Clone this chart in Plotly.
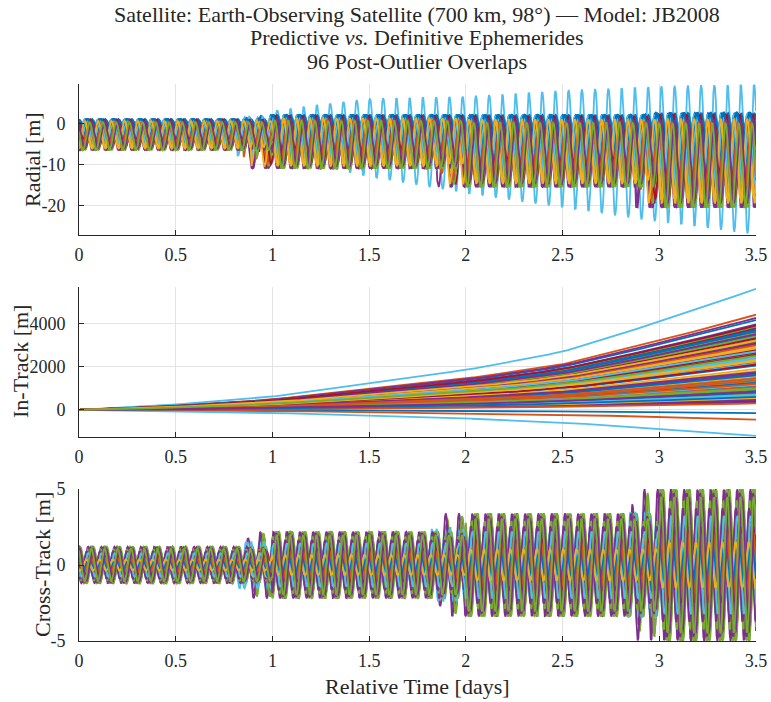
import numpy as np
import plotly.graph_objects as go

COLORS = ["#0072BD", "#D95319", "#EDB120", "#7E2F8E", "#77AC30", "#4DBEEE", "#A2142F"]
N_SERIES = 96
ORBITS_PER_DAY = 14.6
T_END = 3.5

title_lines = ["Satellite: Earth-Observing Satellite (700 km, 98°) — Model: JB2008",
               "Predictive <i>vs.</i> Definitive Ephemerides",
               "96 Post-Outlier Overlaps"]
x_ticks = [0, 0.5, 1, 1.5, 2, 2.5, 3, 3.5]
x_ticktext = ["0", "0.5", "1", "1.5", "2", "2.5", "3", "3.5"]
rad_ticks = [-20, -10, 0]
rad_ticktext = ["-20", "-10", "0"]
int_ticks = [0, 2000, 4000]
int_ticktext = ["0", "2000", "4000"]
cross_ticks = [-5, 0, 5]
cross_ticktext = ["-5", "0", "5"]

# In-track error at 3.5 days for each overlap [m]
intrack_end = [
    4150, 4400, 3650, 4250, 3300, 5600, 3900,
    -150, -450, 2900, 3800, 3550, -1200, 3100,
    2500, 1500, 3400, 2200, 3700, 2700, 1200,
    900, 3000, 1800, 3950, 2600, 1400, 700,
    2050, 600, 3250, 1100, 3500, 2350, 400,
    1650, 2800, 1000, 3600, 1300, 2450, 3050,
    500, 3200, 1550, 3350, 750, 2150, 3750,
    1250, 850, 2950, 1700, 3150, 650, 2750,
    3450, 1050, 2250, 350, 3850, 1450, 2550,
    800, 3000, 1900, 450, 3550, 1150, 2650,
    3700, 1350, 550, 3100, 950, 2400, 3300,
    1600, 300, 2850, 1750, 3400, 700, 2100,
    3650, 1200, 2300, 3500, 1000, 2700, 3900,
    600, 1450, 3200, 850, 2500,
]
# shared growth profile of the in-track error (fraction of end value)
intrack_knot_t = [0, 0.25, 0.5, 0.75, 1.0, 1.25, 1.5, 1.75, 2.0, 2.25, 2.5, 2.75, 3.0, 3.25, 3.5]
intrack_knot_frac = [0, 0.02, 0.045, 0.075, 0.11, 0.165, 0.22, 0.28, 0.33, 0.40, 0.48, 0.60, 0.73, 0.86, 1.0]

# radial envelope per day-segment [m]
rad_env_top = [1.0, 2.0, 2.0, 2.5]
rad_env_bot = [-6.5, -11.0, -15.5, -20.5]
# cross-track max amplitude per day-segment [m]
cross_env_amp = [1.2, 2.2, 3.4, 5.0]

rad_level = [
    0.35, 0.55, 0.80, 0.95, 0.90, 0.70, 0.60,
    0.45, 0.85, 0.75, 1.00, 0.95, 0.65, 0.80,
    0.30, 0.70, 0.90, 0.85, 1.00, 0.55, 0.75,
    0.50, 0.95, 0.65, 0.90, 0.80, 0.60, 0.95,
    0.40, 0.80, 0.85, 1.00, 0.90, 0.70, 0.85,
    0.25, 0.90, 0.70, 0.95, 0.85, 0.50, 0.90,
    0.55, 0.65, 0.95, 0.90, 1.00, 0.75, 0.80,
    0.35, 0.85, 0.80, 0.85, 0.95, 0.65, 0.70,
    0.45, 0.75, 0.90, 1.00, 0.85, 0.55, 0.95,
    0.30, 0.95, 0.75, 0.90, 0.95, 0.60, 0.85,
    0.50, 0.70, 0.85, 0.95, 0.90, 0.65, 0.75,
    0.40, 0.90, 0.80, 1.00, 1.00, 0.70, 0.90,
    0.60, 0.80, 0.95, 0.85, 0.95, 0.75, 0.80,
    0.35, 0.85, 0.90, 0.95, 1.00,
]
rad_drop = [
    0.05, 0.10, 0.35, 0.20, 0.30, 0.15, 0.05,
    0.00, 0.25, 0.40, 0.15, 0.30, 0.10, 0.20,
    0.05, 0.30, 0.20, 0.35, 0.25, 0.10, 0.15,
    0.10, 0.35, 0.25, 0.20, 0.40, 0.05, 0.30,
    0.00, 0.20, 0.30, 0.15, 0.35, 0.25, 0.10,
    0.05, 0.25, 0.40, 0.10, 0.30, 0.20, 0.15,
    0.10, 0.30, 0.20, 0.35, 0.25, 0.15, 0.05,
    0.00, 0.35, 0.25, 0.20, 0.30, 0.40, 0.10,
    0.05, 0.15, 0.30, 0.20, 0.25, 0.35, 0.20,
    0.10, 0.30, 0.40, 0.15, 0.25, 0.05, 0.30,
    0.00, 0.25, 0.20, 0.35, 0.30, 0.10, 0.15,
    0.05, 0.35, 0.30, 0.20, 0.15, 0.25, 0.40,
    0.10, 0.20, 0.30, 0.25, 0.35, 0.15, 0.05,
    0.00, 0.30, 0.20, 0.25, 0.35,
]
cross_level = [
    0.45, 0.40, 0.30, 0.95, 0.90, 0.70, 0.50,
    0.35, 0.55, 0.25, 0.80, 1.00, 0.60, 0.45,
    0.50, 0.30, 0.40, 1.00, 0.75, 0.65, 0.55,
    0.30, 0.45, 0.35, 0.85, 0.95, 0.55, 0.40,
    0.55, 0.35, 0.25, 0.90, 0.80, 0.75, 0.60,
    0.40, 0.50, 0.45, 0.75, 0.85, 0.60, 0.35,
    0.25, 0.40, 0.30, 0.95, 1.00, 0.70, 0.50,
    0.45, 0.55, 0.35, 0.80, 0.90, 0.55, 0.45,
    0.35, 0.30, 0.50, 1.00, 0.75, 0.65, 0.40,
    0.50, 0.45, 0.25, 0.85, 0.95, 0.60, 0.55,
    0.30, 0.35, 0.40, 0.90, 0.85, 0.70, 0.35,
    0.40, 0.50, 0.30, 0.75, 1.00, 0.55, 0.45,
    0.55, 0.40, 0.35, 0.95, 0.80, 0.65, 0.50,
    0.35, 0.45, 0.30, 0.85, 0.90,
]
# orbit phase of each overlap [fraction of an orbit]
phase = [
    0.00, 0.08, 0.16, 0.24, 0.32, 0.04, 0.42,
    0.50, 0.18, 0.10, 0.36, 0.26, 0.54, 0.12,
    0.22, 0.44, 0.30, 0.06, 0.38, 0.56, 0.14,
    0.48, 0.24, 0.02, 0.32, 0.18, 0.42, 0.08,
    0.36, 0.12, 0.52, 0.20, 0.00, 0.30, 0.54,
    0.26, 0.06, 0.38, 0.14, 0.44, 0.24, 0.32,
    0.10, 0.56, 0.18, 0.42, 0.02, 0.50, 0.12,
    0.30, 0.20, 0.48, 0.06, 0.36, 0.14, 0.26,
    0.54, 0.00, 0.24, 0.44, 0.12, 0.32, 0.38,
    0.18, 0.50, 0.06, 0.30, 0.20, 0.56, 0.42,
    0.02, 0.26, 0.36, 0.08, 0.48, 0.14, 0.24,
    0.44, 0.32, 0.12, 0.54, 0.20, 0.38, 0.00,
    0.30, 0.18, 0.50, 0.24, 0.06, 0.42, 0.12,
    0.36, 0.26, 0.56, 0.08, 0.20,
]
seg_shift = [
    0.00, 0.00, 0.05, 0.00, 0.10, 0.00, 0.00,
    0.03, 0.00, 0.00, 0.15, 0.00, 0.06, 0.00,
    0.00, 0.08, 0.00, 0.00, 0.02, 0.00, 0.12,
    0.00, 0.00, 0.04, 0.00, 0.00, 0.00, 0.07,
    0.00, 0.15, 0.00, 0.05, 0.00, 0.00, 0.00,
    0.10, 0.00, 0.00, 0.00, 0.03, 0.00, 0.00,
    0.00, 0.06, 0.00, 0.00, 0.00, 0.18, 0.00,
    0.00, 0.00, 0.09, 0.00, 0.00, 0.04, 0.00,
    0.00, 0.00, 0.00, 0.12, 0.00, 0.00, 0.05,
    0.00, 0.00, 0.00, 0.00, 0.08, 0.00, 0.00,
    0.02, 0.00, 0.00, 0.00, 0.00, 0.16, 0.00,
    0.00, 0.07, 0.00, 0.00, 0.00, 0.00, 0.03,
    0.00, 0.00, 0.11, 0.00, 0.00, 0.00, 0.00,
    0.05, 0.00, 0.00, 0.00, 0.00,
]
# the radial outlier (cyan overlap #6) envelope knots [days, m]
outlier_idx = 5
outlier_t = [0.0, 0.97, 1.0, 1.5, 2.0, 2.5, 3.0, 3.5]
outlier_top = [-0.5, -0.5, 3.0, 6.0, 6.5, 8.0, 9.0, 9.5]
outlier_bot = [-4.5, -4.5, -8.0, -13.0, -17.0, -20.5, -24.0, -27.0]

t = np.arange(0.0, T_END + 1e-9, 0.004)

fig = go.Figure()

for i in range(N_SERIES):
    color = COLORS[i % 7]
    seg = np.searchsorted(np.array([1.0, 2.0, 3.0]) - seg_shift[i], t, side="right")
    top_env = np.array(rad_env_top)[seg]
    bot_env = np.array(rad_env_bot)[seg]
    top = top_env - rad_drop[i] * 0.3 * (top_env - bot_env)
    bot = top - rad_level[i] * (top - bot_env)
    if i == outlier_idx:
        top = np.interp(t, outlier_t, outlier_top)
        bot = np.interp(t, outlier_t, outlier_bot)
    ang = 2 * np.pi * (ORBITS_PER_DAY * t + phase[i])
    radial = (top + bot) / 2 + (top - bot) / 2 * np.cos(ang)
    intrack = intrack_end[i] * np.interp(t, intrack_knot_t, intrack_knot_frac)
    cross = cross_level[i] * np.array(cross_env_amp)[seg] * np.sin(ang + 0.8)

    common = dict(mode="lines", line=dict(color=color, width=1.8), hoverinfo="skip", showlegend=False)
    fig.add_trace(go.Scatter(x=t, y=radial, xaxis="x", yaxis="y", **common))
    fig.add_trace(go.Scatter(x=t, y=intrack, xaxis="x2", yaxis="y2", **common))
    fig.add_trace(go.Scatter(x=t, y=cross, xaxis="x3", yaxis="y3", **common))

W, H = 771, 702
FONT = "Liberation Serif"
AX = "#262626"
GRID = "#e3e3e3"

x_dom = [79 / W, 756 / W]


def ydom(top_px, bot_px):
    return [1 - bot_px / H, 1 - top_px / H]


xcommon = dict(range=[0, 3.5], tickvals=x_ticks, ticktext=x_ticktext, showline=True,
               linecolor=AX, linewidth=1, ticks="inside", ticklen=5, tickcolor=AX,
               showgrid=True, gridcolor=GRID, gridwidth=1, zeroline=False,
               domain=x_dom, tickfont=dict(family=FONT, size=18, color=AX),
               ticklabelstandoff=3)
ycommon = dict(showline=True, linecolor=AX, linewidth=1, ticks="inside", ticklen=5,
               tickcolor=AX, showgrid=True, gridcolor=GRID, gridwidth=1, zeroline=False,
               tickfont=dict(family=FONT, size=18, color=AX), ticklabelstandoff=9)


def label(text, xpx, ypx, angle=0, size=21):
    return dict(text=text, x=xpx / W, y=1 - ypx / H, xref="paper", yref="paper",
                xanchor="center", yanchor="middle", textangle=angle, showarrow=False,
                font=dict(family=FONT, size=size, color=AX))


annotations = [label(line, 417, y, size=22) for line, y in zip(title_lines, [14, 38, 61])]
annotations += [
    label("Radial [m]", 32, 160, -90, 22),
    label("In-Track [m]", 20, 362, -90, 22),
    label("Cross-Track [m]", 42, 565, -90, 22),
    label("Relative Time [days]", 417, 686, 0, 22),
]

fig.update_layout(
    width=W, height=H,
    margin=dict(l=0, r=0, t=0, b=0, autoexpand=False),
    paper_bgcolor="white", plot_bgcolor="white",
    xaxis=dict(anchor="y", **xcommon),
    xaxis2=dict(anchor="y2", **xcommon),
    xaxis3=dict(anchor="y3", **xcommon),
    yaxis=dict(anchor="x", domain=ydom(84, 235), range=[-27.1, 9.5], tickvals=rad_ticks,
               ticktext=rad_ticktext, **ycommon),
    yaxis2=dict(anchor="x2", domain=ydom(287, 437), range=[-1250, 5680], tickvals=int_ticks,
                ticktext=int_ticktext, **ycommon),
    yaxis3=dict(anchor="x3", domain=ydom(489, 641), range=[-5, 5], tickvals=cross_ticks,
                ticktext=cross_ticktext, **ycommon),
    annotations=annotations,
)

fig.write_html("out.html")
